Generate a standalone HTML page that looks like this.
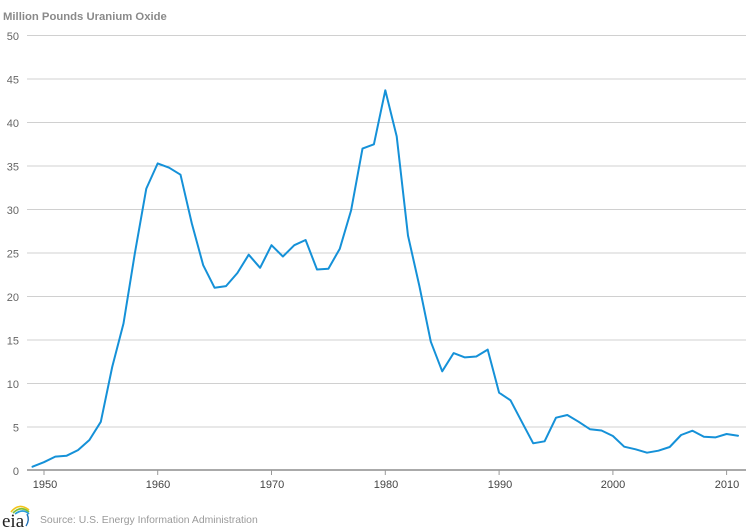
<!DOCTYPE html>
<html>
<head>
<meta charset="utf-8">
<style>
html,body{margin:0;padding:0;background:#fff;}
body{width:754px;height:531px;overflow:hidden;}
svg{display:block;font-family:"Liberation Sans",Arial,sans-serif;}
</style>
</head>
<body>
<svg width="754" height="531" viewBox="0 0 754 531" xmlns="http://www.w3.org/2000/svg">
  <text x="3" y="20" font-size="11.3" font-weight="bold" fill="#8a8a8a">Million Pounds Uranium Oxide</text>

  <g stroke="#d0d0d0" stroke-width="1">
    <line x1="27" y1="35.5" x2="746" y2="35.5"/>
    <line x1="27" y1="79" x2="746" y2="79"/>
    <line x1="27" y1="122.5" x2="746" y2="122.5"/>
    <line x1="27" y1="166" x2="746" y2="166"/>
    <line x1="27" y1="209.5" x2="746" y2="209.5"/>
    <line x1="27" y1="253" x2="746" y2="253"/>
    <line x1="27" y1="296.5" x2="746" y2="296.5"/>
    <line x1="27" y1="340" x2="746" y2="340"/>
    <line x1="27" y1="383.5" x2="746" y2="383.5"/>
    <line x1="27" y1="427" x2="746" y2="427"/>
  </g>
  <line x1="27" y1="470" x2="746" y2="470" stroke="#aaaaaa" stroke-width="2"/>
  <g stroke="#999" stroke-width="1">
    <line x1="44" y1="470" x2="44" y2="475"/>
    <line x1="157.7" y1="470" x2="157.7" y2="475"/>
    <line x1="271.5" y1="470" x2="271.5" y2="475"/>
    <line x1="385.3" y1="470" x2="385.3" y2="475"/>
    <line x1="499.1" y1="470" x2="499.1" y2="475"/>
    <line x1="612.9" y1="470" x2="612.9" y2="475"/>
    <line x1="726.6" y1="470" x2="726.6" y2="475"/>
  </g>

  <g font-size="11" fill="#666" text-anchor="end">
    <text x="19" y="40">50</text>
    <text x="19" y="83.5">45</text>
    <text x="19" y="127">40</text>
    <text x="19" y="170.5">35</text>
    <text x="19" y="214">30</text>
    <text x="19" y="257.5">25</text>
    <text x="19" y="301">20</text>
    <text x="19" y="344.5">15</text>
    <text x="19" y="388">10</text>
    <text x="19" y="431.5">5</text>
    <text x="19" y="475">0</text>
  </g>
  <g font-size="11" fill="#444" text-anchor="middle">
    <text x="45" y="488">1950</text>
    <text x="158" y="488">1960</text>
    <text x="272" y="488">1970</text>
    <text x="386" y="488">1980</text>
    <text x="500" y="488">1990</text>
    <text x="613" y="488">2000</text>
    <text x="727" y="488">2010</text>
  </g>

  <polyline fill="none" stroke="#1591d8" stroke-width="2" stroke-linejoin="round" stroke-linecap="round"
    points="32.5,466.7 43.9,462.2 55.3,456.6 66.7,455.7 78.0,450.1 89.4,440.0 100.8,421.8 112.2,367.0 123.5,323.5 134.9,253.0 146.3,188.6 157.7,163.4 169.1,167.7 180.5,174.7 191.8,223.4 203.2,265.2 214.6,287.8 226.0,286.1 237.4,273.0 248.7,254.7 260.1,267.8 271.5,245.2 282.9,256.5 294.3,245.2 305.6,240.0 317.0,269.5 328.4,268.7 339.8,248.7 351.1,210.4 362.5,148.6 373.9,144.3 385.3,90.3 396.7,136.4 408.0,235.6 419.4,286.1 430.8,341.7 442.2,371.3 453.6,353.1 464.9,357.4 476.3,356.5 487.7,349.6 499.1,392.7 510.5,400.3 521.8,421.8 533.2,443.3 544.6,441.3 556.0,417.7 567.3,415.0 578.7,421.8 590.1,429.3 601.5,430.5 612.9,436.0 624.2,446.7 635.6,449.3 647.0,452.7 658.4,450.7 669.7,447.0 681.1,435.0 692.5,430.7 703.9,436.7 715.3,437.4 726.6,434.0 738.0,435.7"/>

  <!-- eia logo -->
  <path d="M11 512 Q19 502 29 510" fill="none" stroke="#f2c418" stroke-width="1.6"/>
  <path d="M13 513 Q21 505 29 512" fill="none" stroke="#7fbf3a" stroke-width="1.6"/>
  <path d="M15 514 Q23 508 29 514" fill="none" stroke="#2b9fd8" stroke-width="1.6"/>
  <path d="M27 514 Q30 520 26 526" fill="none" stroke="#1f6fb5" stroke-width="1.4"/>
  <text x="2" y="527" font-family="'Liberation Serif',serif" font-size="19" fill="#222">eia</text>

  <text x="40" y="523" font-size="10.4" fill="#9a9a9a">Source: U.S. Energy Information Administration</text>
</svg>
</body>
</html>
